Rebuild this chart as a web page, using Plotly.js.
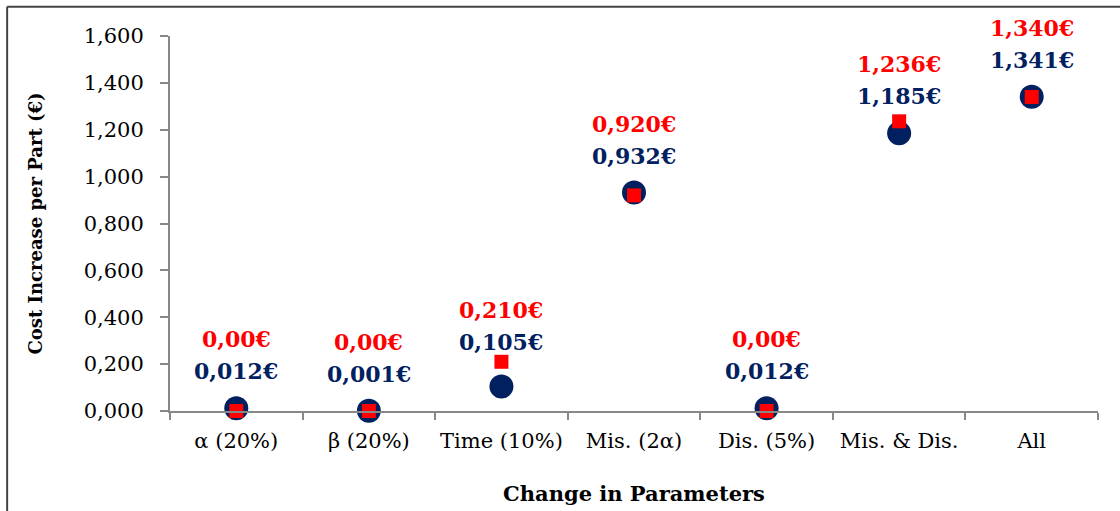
<!DOCTYPE html>
<html>
<head>
<meta charset="utf-8">
<script src="https://cdn.plot.ly/plotly-3.0.1.min.js"></script>
<style>html,body{margin:0;padding:0;background:#fff;}#chart{width:1120px;height:511px;}</style>
</head>
<body>
<div id="chart"></div>
<script>
const categories = ["α (20%)", "β (20%)", "Time (10%)", "Mis. (2α)", "Dis. (5%)", "Mis. & Dis.", "All"];
const navyValues = [0.012, 0.001, 0.105, 0.932, 0.012, 1.185, 1.341];
const redValues = [0.000, 0.000, 0.210, 0.920, 0.000, 1.236, 1.340];
const navyLabels = ["0,012€", "0,001€", "0,105€", "0,932€", "0,012€", "1,185€", "1,341€"];
const redLabels = ["0,00€", "0,00€", "0,210€", "0,920€", "0,00€", "1,236€", "1,340€"];
const yTickVals = [0, 0.2, 0.4, 0.6, 0.8, 1.0, 1.2, 1.4, 1.6];

const NAVY = "#002060", RED = "#FF0000";
const W = 1120, H = 511;
const margin = {l: 170, r: 22, t: 36, b: 100};
const yRange = [0, 1.6];
const pxPerUnit = (H - margin.t - margin.b) / (yRange[1] - yRange[0]);

const traces = [
  {type: "scatter", mode: "markers", x: categories, y: navyValues,
   marker: {symbol: "circle", size: 24, color: NAVY}, hoverinfo: "skip", cliponaxis: false},
  {type: "scatter", mode: "markers", x: categories, y: redValues,
   marker: {symbol: "square", size: 14, color: RED}, hoverinfo: "skip", cliponaxis: false}
];

const annotations = [];
categories.forEach((c, i) => {
  // navy label sits above its point, and clears the red square if that is higher
  const gap = Math.max(0, (redValues[i] - navyValues[i]) * pxPerUnit);
  const shift = Math.max(37, gap + 20);
  annotations.push({x: c, y: navyValues[i], xref: "x", yref: "y", text: "<b>" + navyLabels[i] + "</b>",
    showarrow: false, yshift: shift, font: {family: "DejaVu Serif", size: 22, color: NAVY}});
  annotations.push({x: c, y: navyValues[i], xref: "x", yref: "y", text: "<b>" + redLabels[i] + "</b>",
    showarrow: false, yshift: shift + 32, font: {family: "DejaVu Serif", size: 22, color: RED}});
});

const layout = {
  width: W, height: H,
  margin: margin,
  paper_bgcolor: "#fff", plot_bgcolor: "#fff",
  separators: ",.",
  showlegend: false,
  font: {family: "DejaVu Serif", size: 20, color: "#000"},
  xaxis: {
    type: "category", categoryorder: "array", categoryarray: categories,
    range: [-0.5, 6.5], showgrid: false, zeroline: false,
    showline: true, linecolor: "#888888", linewidth: 2,
    ticks: "outside", tickson: "boundaries", ticklen: 7, tickcolor: "#888888", tickwidth: 2,
    ticklabelstandoff: 10, tickangle: 0,
    tickfont: {family: "DejaVu Serif", size: 21, color: "#000"},
    title: {text: "<b>Change in Parameters</b>", font: {family: "DejaVu Serif", size: 21, color: "#000"}, standoff: 34}
  },
  yaxis: {
    range: yRange, tickvals: yTickVals, tickformat: ".3f",
    showgrid: false, zeroline: false,
    showline: true, linecolor: "#888888", linewidth: 2,
    ticks: "outside", ticklen: 8, tickcolor: "#888888", tickwidth: 2,
    ticklabelstandoff: 12,
    tickfont: {family: "DejaVu Serif", size: 21, color: "#000"},
    title: {text: "<b>Cost Increase per Part (€)</b>", font: {family: "DejaVu Serif", size: 18, color: "#000"}, standoff: 36}
  },
  annotations: annotations,
  shapes: [
    {type: "line", xref: "paper", yref: "paper", x0: -0.1755, x1: -0.1755, y0: -0.33, y1: 1.078, line: {color: "#444", width: 2}},
    {type: "line", xref: "paper", yref: "paper", x0: -0.1755, x1: 1.03, y0: 1.078, y1: 1.078, line: {color: "#444", width: 2}}
  ]
};

Plotly.newPlot("chart", traces, layout, {displayModeBar: false, staticPlot: true});
</script>
</body>
</html>
